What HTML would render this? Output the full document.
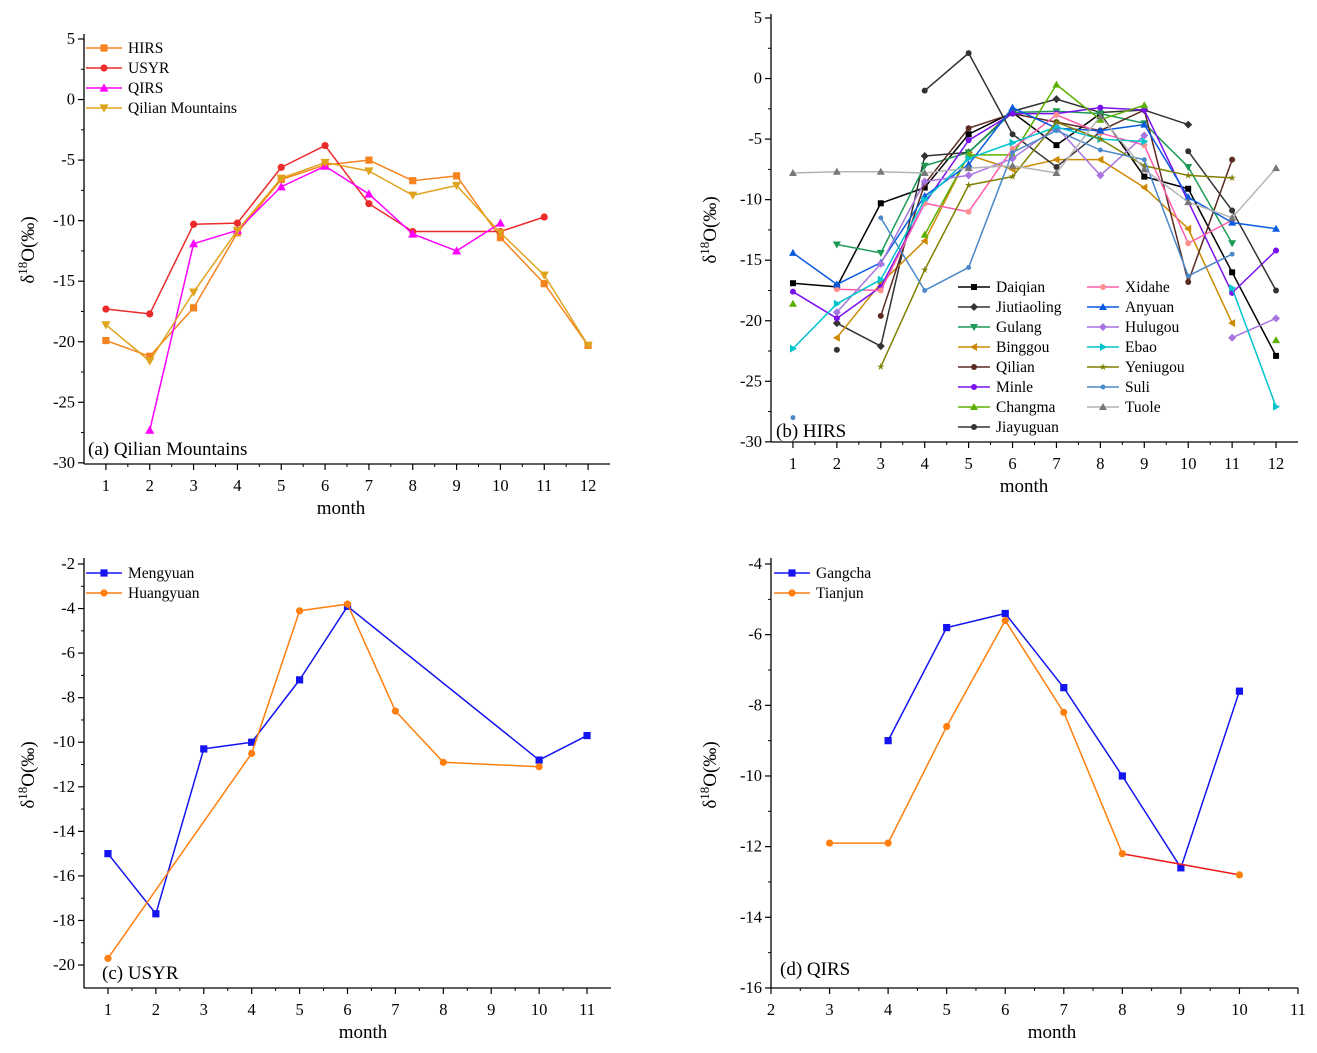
<!DOCTYPE html>
<html><head><meta charset="utf-8">
<style>
body{margin:0;background:#fff;}
svg{display:block;font-family:"Liberation Serif","DejaVu Serif",serif;}
</style></head>
<body>
<svg id="chart" width="1317" height="1053" viewBox="0 0 1317 1053" xmlns="http://www.w3.org/2000/svg"></svg>
<script>
// ---------- Panel (a) data ----------
const aMonths = [1,2,3,4,5,6,7,8,9,10,11,12];
const aHIRS = [-19.9,-21.2,-17.2,-11.0,-6.6,-5.4,-5.0,-6.7,-6.3,-11.4,-15.2,-20.3];
const aUSYR = [-17.3,-17.7,-10.3,-10.2,-5.6,-3.8,-8.6,-10.9,null,-10.9,-9.7,null];
const aQIRS = [null,-27.3,-11.9,-10.8,-7.2,-5.5,-7.8,-11.1,-12.5,-10.2,null,null];
const aQilianMts = [-18.6,-21.6,-15.9,-10.8,-6.5,-5.2,-5.9,-7.9,-7.1,-11.0,-14.5,-20.3];
const aYTicks = [5,0,-5,-10,-15,-20,-25,-30];
const aXTicks = [1,2,3,4,5,6,7,8,9,10,11,12];

// ---------- Panel (b) data ----------
const bMonths = [1,2,3,4,5,6,7,8,9,10,11,12];
const bDaiqian = [-16.9,-17.2,-10.3,-9.0,-4.6,-2.8,-5.5,-2.9,-8.1,-9.1,-16.0,-22.9];
const bJiutiaoling = [null,-20.2,-22.1,-6.4,-6.1,-2.7,-1.7,-2.8,-2.6,-3.8,null,null];
const bGulang = [null,-13.7,-14.4,-7.2,-6.1,-2.8,-2.7,-2.9,-3.7,-7.3,-13.6,null];
const bBinggou = [null,-21.4,-16.9,-13.4,-6.3,-7.5,-6.7,-6.7,-9.0,-12.4,-20.2,null];
const bQilian = [null,null,-19.6,-8.7,-4.1,-2.9,-3.6,-4.3,-2.6,-16.8,-6.7,null];
const bMinle = [-17.6,-19.8,-17.2,-10.3,-5.1,-2.9,-2.9,-2.4,-2.6,null,-17.7,-14.2];
const bChangma = [-18.6,null,null,-12.9,-6.3,-6.3,-0.5,-3.4,-2.2,null,null,-21.6];
const bJiayuguan = [null,-22.4,null,-1.0,2.1,-4.6,-7.3,-4.4,null,-6.0,-10.9,-17.5];
const bXidahe = [null,-17.4,-17.5,-10.3,-11.0,-5.8,-3.0,-4.5,-5.5,-13.6,-11.7,null];
const bAnyuan = [-14.4,-17.0,-15.2,-9.7,-7.1,-2.4,-4.1,-4.3,-3.8,-9.8,-11.9,-12.4];
const bHulugou = [null,-19.3,-15.3,-8.5,-8.0,-6.6,-4.0,-8.0,-4.7,null,-21.4,-19.8];
const bEbao = [-22.3,-18.6,-16.6,-10.0,-6.6,-5.3,-4.0,-5.0,-5.2,null,-17.3,-27.1];
const bYeniugou = [null,null,-23.8,-15.8,-8.8,-8.1,-3.6,-5.0,-7.2,-8.0,-8.2,null];
const bSuli = [-28.0,null,-11.5,-17.5,-15.6,-6.1,-4.3,-5.9,-6.7,-16.3,-14.5,null];
const bTuole = [-7.8,-7.7,-7.7,-7.8,-7.4,-7.2,-7.8,-3.1,-7.5,-10.2,-11.5,-7.4];
const bYTicks = [5,0,-5,-10,-15,-20,-25,-30];
const bXTicks = [1,2,3,4,5,6,7,8,9,10,11,12];

// ---------- Panel (c) data ----------
const cMonths = [1,2,3,4,5,6,7,8,9,10,11];
const cMengyuan = [-15.0,-17.7,-10.3,-10.0,-7.2,-3.9,null,null,null,-10.8,-9.7];
const cHuangyuan = [-19.7,null,null,-10.5,-4.1,-3.8,-8.6,-10.9,null,-11.1,null];
const cYTicks = [-2,-4,-6,-8,-10,-12,-14,-16,-18,-20];
const cXTicks = [1,2,3,4,5,6,7,8,9,10,11];

// ---------- Panel (d) data ----------
const dMonths = [3,4,5,6,7,8,9,10];
const dGangcha = [null,-9.0,-5.8,-5.4,-7.5,-10.0,-12.6,-7.6];
const dTianjun = [-11.9,-11.9,-8.6,-5.6,-8.2,-12.2,null,-12.8];
const dYTicks = [-4,-6,-8,-10,-12,-14,-16];
const dXTicks = [2,3,4,5,6,7,8,9,10,11];

const NS = "http://www.w3.org/2000/svg";
const svg = document.getElementById('chart');
function mk(tag, attrs, parent){
  const e = document.createElementNS(NS, tag);
  for (const k in attrs) e.setAttribute(k, attrs[k]);
  (parent||svg).appendChild(e);
  return e;
}
function marker(g, shape, x, y, color, s){
  let e;
  s = s||4;
  if (shape==='square') e = mk('rect',{x:x-s,y:y-s,width:2*s,height:2*s,fill:color},g);
  else if (shape==='circle') e = mk('circle',{cx:x,cy:y,r:s,fill:color},g);
  else if (shape==='small') e = mk('circle',{cx:x,cy:y,r:s*0.7,fill:color},g);
  else if (shape==='up') e = mk('polygon',{points:`${x},${y-s-1} ${x-s-1},${y+s} ${x+s+1},${y+s}`,fill:color},g);
  else if (shape==='down') e = mk('polygon',{points:`${x},${y+s+1} ${x-s-1},${y-s} ${x+s+1},${y-s}`,fill:color},g);
  else if (shape==='left') e = mk('polygon',{points:`${x-s-1},${y} ${x+s},${y-s-1} ${x+s},${y+s+1}`,fill:color},g);
  else if (shape==='right') e = mk('polygon',{points:`${x+s+1},${y} ${x-s},${y-s-1} ${x-s},${y+s+1}`,fill:color},g);
  else if (shape==='diamond') e = mk('polygon',{points:`${x},${y-s-1} ${x+s+1},${y} ${x},${y+s+1} ${x-s-1},${y}`,fill:color},g);
  else if (shape==='star'){
    let p=[];for(let i=0;i<10;i++){const r=i%2?s*0.45:s+1;const a=-Math.PI/2+i*Math.PI/5;p.push((x+r*Math.cos(a)).toFixed(1)+','+(y+r*Math.sin(a)).toFixed(1));}
    e = mk('polygon',{points:p.join(' '),fill:color},g);
  }
  
  
  return e;
}

function panel(cfg){
  const g = mk('g',{});
  
  
  const X = v => cfg.x0 + (v - cfg.xd0) * (cfg.x1 - cfg.x0) / (cfg.xd1 - cfg.xd0);
  const Y = v => cfg.yRef + (cfg.vRef - v) * cfg.ppu;
  const ax = mk('line',{x1:cfg.x0,y1:cfg.top,x2:cfg.x0,y2:cfg.bottom,stroke:'#000','stroke-width':1.3},g);
   
  const bx = mk('line',{x1:cfg.x0,y1:cfg.bottom,x2:cfg.x1,y2:cfg.bottom,stroke:'#000','stroke-width':1.3},g);
   
  cfg.yTicks.forEach((v,i)=>{
    const y = Y(v);
    mk('line',{x1:cfg.x0-6,y1:y,x2:cfg.x0,y2:y,stroke:'#000','stroke-width':1.2},g);
    if (i < cfg.yTicks.length-1){
      const ym = (y + Y(cfg.yTicks[i+1]))/2;
      mk('line',{x1:cfg.x0-3,y1:ym,x2:cfg.x0,y2:ym,stroke:'#000','stroke-width':1},g);
    }
    const t = mk('text',{x:cfg.x0-9,y:y+5,'text-anchor':'end','font-size':16.5},g);
    t.textContent = v;
     
  });
  cfg.xTicks.forEach((v,i)=>{
    const x = X(v);
    mk('line',{x1:x,y1:cfg.bottom,x2:x,y2:cfg.bottom+6,stroke:'#000','stroke-width':1.2},g);
    if (i < cfg.xTicks.length-1){
      const xm=(x+X(cfg.xTicks[i+1]))/2;
      mk('line',{x1:xm,y1:cfg.bottom,x2:xm,y2:cfg.bottom+3,stroke:'#000','stroke-width':1},g);
    }
    const t = mk('text',{x:x,y:cfg.bottom+27,'text-anchor':'middle','font-size':16.5},g);
    t.textContent = v;
     
  });
  const xt = mk('text',{x:cfg.xtx,y:cfg.bottom+50,'text-anchor':'middle','font-size':19},g);
  xt.textContent='month';
   
  const yt = mk('text',{x:0,y:0,'text-anchor':'middle','font-size':19,transform:`translate(${cfg.ytx},${cfg.yty}) rotate(-90)`},g);
  yt.innerHTML = 'δ<tspan dy="-7" font-size="13">18</tspan><tspan dy="7">O(‰)</tspan>';
   
  const pl = mk('text',{x:cfg.lx,y:cfg.ly,'font-size':19},g);
  pl.textContent = cfg.label;
   
  cfg.series.forEach(s=>{
    const sg = mk('g',{},g);
    
    
    const pts=[];
    cfg.months.forEach((m,i)=>{ if (s.vals[i]!==null && s.vals[i]!==undefined) pts.push([X(m),Y(s.vals[i]),i]); });
    for (let k=0;k<pts.length-1;k++){
      const gap = pts[k+1][2]-pts[k][2] > 1;
      if (gap && s.noGap) continue;
      mk('line',{x1:pts[k][0],y1:pts[k][1],x2:pts[k+1][0],y2:pts[k+1][1],stroke:(gap && s.gapColor)?s.gapColor:s.color,'stroke-width':1.5},sg);
    }
    pts.forEach(p=>marker(sg,s.shape,p[0],p[1],s.mcolor||s.color,s.size||3.6));
  });
  cfg.legend.forEach((l,i)=>{
    const s = cfg.series[l.idx];
    const lg = mk('g',{},g);
    
    
    mk('line',{x1:l.x,y1:l.y,x2:l.x+l.w,y2:l.y,stroke:s.color,'stroke-width':1.6},lg);
    marker(lg,s.shape,l.x+l.w/2,l.y,s.mcolor||s.color,s.size||3.6);
    const t = mk('text',{x:l.x+l.w+6,y:l.y+5,'font-size':15.5},lg);
    t.textContent = s.name;
  });
}

const aSeries = [
  {name:'HIRS',vals:aHIRS,color:'#f5841f',shape:'square'},
  {name:'USYR',vals:aUSYR,color:'#ec2c2c',shape:'circle'},
  {name:'QIRS',vals:aQIRS,color:'#ff00ff',shape:'up'},
  {name:'Qilian Mountains',vals:aQilianMts,color:'#e0a31c',shape:'down'}
];
panel({name:'panel-a-qilian-mountains',months:aMonths,x0:84,x1:610,xd0:0.5,xd1:12.5,yRef:39,vRef:5,ppu:12.11,top:34,bottom:464,
  yTicks:aYTicks,xTicks:aXTicks,xtx:341,ytx:34,yty:250,lx:88,ly:455,label:'(a) Qilian Mountains',series:aSeries,
  legend:aSeries.map((s,i)=>({idx:i,x:86,y:48+i*20,w:36}))});

const bSeries = [
  {name:'Daiqian',vals:bDaiqian,color:'#000000',shape:'square',size:3},
  {name:'Jiutiaoling',vals:bJiutiaoling,color:'#333333',shape:'diamond',size:3},
  {name:'Gulang',vals:bGulang,color:'#1c9a55',shape:'down',size:3},
  {name:'Binggou',vals:bBinggou,color:'#cc8a00',shape:'left',size:3},
  {name:'Qilian',vals:bQilian,color:'#5a2b22',shape:'circle',size:3},
  {name:'Minle',vals:bMinle,color:'#7a10f0',shape:'circle',size:3},
  {name:'Changma',vals:bChangma,color:'#5cb000',shape:'up',size:3,noGap:true},
  {name:'Jiayuguan',vals:bJiayuguan,color:'#333333',shape:'circle',size:3,noGap:true},
  {name:'Xidahe',vals:bXidahe,color:'#ff5cad',shape:'circle',size:3,mcolor:'#ff9090'},
  {name:'Anyuan',vals:bAnyuan,color:'#0a5ae0',shape:'up',size:3},
  {name:'Hulugou',vals:bHulugou,color:'#a874e0',shape:'diamond',size:3,noGap:true},
  {name:'Ebao',vals:bEbao,color:'#00c4cc',shape:'right',size:3,noGap:true},
  {name:'Yeniugou',vals:bYeniugou,color:'#7f7f00',shape:'star',size:3},
  {name:'Suli',vals:bSuli,color:'#4a88c8',shape:'small',size:3.5,noGap:true},
  {name:'Tuole',vals:bTuole,color:'#b4b4b4',shape:'up',size:3,mcolor:'#777777'}
];
const bOrder=[0,8,1,9,2,10,3,11,4,12,5,13,6,14,7];
panel({name:'panel-b-hirs',months:bMonths,x0:771,x1:1298,xd0:0.5,xd1:12.5,yRef:18,vRef:5,ppu:12.11,top:14,bottom:442,
  yTicks:bYTicks,xTicks:bXTicks,xtx:1024,ytx:716,yty:230,lx:776,ly:437,label:'(b) HIRS',series:bSeries,
  legend:bOrder.map((idx,k)=>({idx:idx,x:(k%2===0)?958:1087,y:287+Math.floor(k/2)*20,w:32}))});

const cSeries = [
  {name:'Mengyuan',vals:cMengyuan,color:'#1414f0',shape:'square'},
  {name:'Huangyuan',vals:cHuangyuan,color:'#ff7f0e',shape:'circle'}
];
panel({name:'panel-c-usyr',months:cMonths,x0:84,x1:611,xd0:0.5,xd1:11.5,yRef:564,vRef:-2,ppu:22.28,top:558,bottom:988,
  yTicks:cYTicks,xTicks:cXTicks,xtx:363,ytx:34,yty:775,lx:102,ly:979,label:'(c) USYR',series:cSeries,
  legend:cSeries.map((s,i)=>({idx:i,x:86,y:573+i*20,w:36}))});

const dSeries = [
  {name:'Gangcha',vals:dGangcha,color:'#1414f0',shape:'square'},
  {name:'Tianjun',vals:dTianjun,color:'#ff7f0e',shape:'circle',gapColor:'#ee1c1c'}
];
panel({name:'panel-d-qirs',months:dMonths,x0:771,x1:1298,xd0:2,xd1:11,yRef:564,vRef:-4,ppu:35.33,top:558,bottom:988,
  yTicks:dYTicks,xTicks:dXTicks,xtx:1052,ytx:716,yty:775,lx:780,ly:975,label:'(d) QIRS',series:dSeries,
  legend:dSeries.map((s,i)=>({idx:i,x:774,y:573+i*20,w:36}))});
</script>
</body></html>
